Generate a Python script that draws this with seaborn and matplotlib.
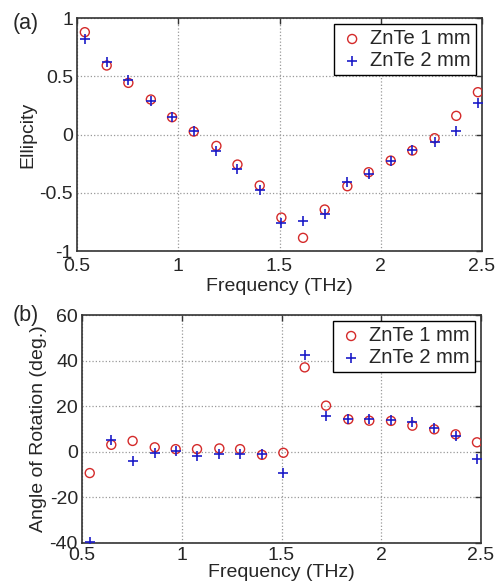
import pandas as pd
import numpy as np
import seaborn as sns
import matplotlib.pyplot as plt

# frequencies (THz)
freq = [0.538, 0.646, 0.753, 0.864, 0.969, 1.076, 1.188, 1.292, 1.402, 1.509,
        1.616, 1.723, 1.835, 1.940, 2.049, 2.156, 2.266, 2.373, 2.480]

# ellipticity
ell_1mm = [0.88, 0.594, 0.445, 0.302, 0.150, 0.027, -0.096, -0.256, -0.436, -0.711,
           -0.885, -0.642, -0.442, -0.322, -0.222, -0.136, -0.030, 0.162, 0.365]
ell_2mm = [0.823, 0.628, 0.471, 0.293, 0.150, 0.036, -0.136, -0.293, -0.474, -0.757,
           -0.737, -0.680, -0.408, -0.336, -0.222, -0.127, -0.064, 0.036, 0.273]

# angle of rotation (deg.)
rot_1mm = [-9.3, 3.1, 4.8, 2.0, 1.2, 1.2, 1.5, 1.2, -1.3, -0.4,
           37.1, 20.3, 14.3, 13.7, 13.6, 11.5, 9.9, 7.7, 4.2]
rot_2mm = [-39.7, 5.0, -3.8, -0.3, 0.6, -1.6, -1.0, -1.0, -0.9, -9.2,
           42.5, 15.9, 14.5, 14.3, 14.0, 13.0, 10.4, 7.0, -3.2]

labels = ['ZnTe 1 mm', 'ZnTe 2 mm']

sns.set_style('white')
plt.rcParams['font.family'] = ['Liberation Sans', 'DejaVu Sans']
plt.rcParams['font.size'] = 14

fig = plt.figure(figsize=(5.01, 5.87), dpi=100)
ax1 = fig.add_axes([0.154, 0.572, 0.808, 0.397])
ax2 = fig.add_axes([0.164, 0.075, 0.796, 0.388])

red = '#d42a2a'
blue = '#1c1cc8'


def panel(ax, y1, y2, ylim, yticks, ylabel, tag, tag_y, xpad):
    sns.scatterplot(x=freq, y=y1, ax=ax, marker='o', s=42, facecolor='none',
                    edgecolor=red, linewidth=1.0, label=labels[0], zorder=3)
    sns.scatterplot(x=freq, y=y2, ax=ax, marker='+', s=60, color=blue,
                    linewidth=1.2, label=labels[1], zorder=4)
    ax.set_xlim(0.5, 2.5)
    ax.set_ylim(*ylim)
    ax.set_xticks([0.5, 1, 1.5, 2, 2.5])
    ax.set_xticklabels(['0.5', '1', '1.5', '2', '2.5'])
    ax.set_yticks(yticks)
    ax.set_yticklabels([('%g' % t) for t in yticks])
    ax.grid(True, linestyle=':', color='#999999', linewidth=0.9)
    ax.tick_params(direction='in', length=4, width=1, top=True, right=True,
                   labelsize=14, color='#333333')
    ax.tick_params(axis='x', pad=xpad)
    ax.tick_params(axis='y', pad=3)
    for sp in ax.spines.values():
        sp.set_color('#333333')
        sp.set_linewidth(1.2)
    ax.set_xlabel('Frequency (THz)', fontsize=14, labelpad=xpad - 3)
    ax.set_ylabel(ylabel, fontsize=14, labelpad=2)
    leg = ax.legend(loc='upper right', fancybox=False, framealpha=1,
                    edgecolor='black', fontsize=14.5, borderaxespad=0.3,
                    handletextpad=0.25, borderpad=0.25, labelspacing=0.15,
                    handlelength=1.3)
    leg.get_frame().set_linewidth(1.0)
    fig.text(13 / 501, 1 - tag_y / 587, tag, fontsize=15.5,
             ha='left', va='center')


panel(ax1, ell_1mm, ell_2mm, (-1, 1), [-1, -0.5, 0, 0.5, 1],
      'Ellipcity', '(a)', 24, 5)
panel(ax2, rot_1mm, rot_2mm, (-40, 60), [-40, -20, 0, 20, 40, 60],
      'Angle of Rotation (deg.)', '(b)', 316, 3)

fig.savefig('out.png', dpi=100)
